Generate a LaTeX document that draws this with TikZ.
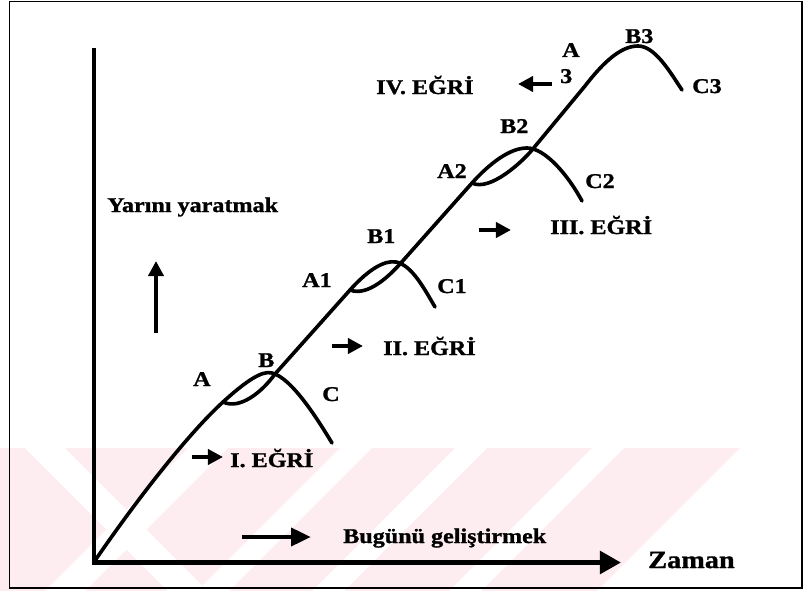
\documentclass[tikz,border=0pt]{standalone}
\usepackage{fontspec}
\setmainfont{Liberation Serif}[FakeStretch=1.15,BoldFeatures={FakeBold=1.2}]
\usetikzlibrary{arrows.meta}
\definecolor{wmpink}{RGB}{253,237,240}

\begin{document}
\begin{tikzpicture}[x=0.03cm,y=-0.03cm,
  lbl/.style={font=\bfseries\fontsize{17.9}{20}\selectfont,inner sep=0pt,anchor=base west},
  curve/.style={line width=3.1pt,line cap=round,line join=round},
  arr/.style={line width=4pt,-{Triangle[length=13pt,width=13pt]}},
  axis/.style={line width=4.2pt,-{Triangle[length=18pt,width=19pt]}}]
\useasboundingbox (0,0) rectangle (804,591);
% watermark band
\begin{scope}
\clip (0,448) -- (740,448) -- (597,591) -- (0,591) -- cycle;
\fill[wmpink] (0,448) rectangle (804,591);
\fill[white] (25,448) -- (65,448) -- (208,591) -- (168,591) -- cycle;
\fill[white] (188,448) -- (228,448) -- (85,591) -- (45,591) -- cycle;
\foreach \s in {340,455,592}
  \fill[white] (\s,448) -- (\s+32,448) -- (\s+32-143,591) -- (\s-143,591) -- cycle;
\end{scope}
\draw[line width=1.7pt] (9.5,1.5) rectangle (802,588);

% axes
\coordinate (ytop) at (94,48);
\coordinate (xend) at (621,562.5);
\draw[axis] (ytop) |- (xend);
\node[lbl,font=\bfseries\fontsize{21}{24}\selectfont] (zaman) at (648,568) {Zaman};

% curves
\draw[curve] (94,562) .. controls (140,495) and (190,432) .. (223,402)
  .. controls (245,382) and (262,370) .. (272,373)
  .. controls (292,378) and (318,420) .. (332,443);
\draw[curve] (223,402) .. controls (240,410) and (262,392) .. (275,374) -- (350,290)
  .. controls (368,270) and (384,260) .. (396,262)
  .. controls (412,265) and (425,290) .. (435,307);
\draw[curve] (350,290) .. controls (368,297) and (390,275) .. (400,264) -- (472,183)
  .. controls (490,163) and (510,148) .. (527,148)
  .. controls (545,148) and (568,175) .. (582,201);
\draw[curve] (472,183) .. controls (490,192) and (523,161) .. (532,150) -- (585,86)
  .. controls (605,60) and (622,46) .. (638,46)
  .. controls (655,46) and (670,72) .. (682,90);

% point labels
\node[lbl] (a0) at (193,386) {A};
\node[lbl] (b0) at (258,367) {B};
\node[lbl] (c0) at (322,401) {C};
\node[lbl] (a1) at (302,287) {A1};
\node[lbl] (b1) at (367,243) {B1};
\node[lbl] (c1) at (437,293) {C1};
\node[lbl] (a2) at (437,178) {A2};
\node[lbl] (b2) at (500,133) {B2};
\node[lbl] (c2) at (585,188) {C2};
\node[lbl] (a3) at (562,57) {A};
\node[lbl] (n3) at (560,83) {3};
\node[lbl] (b3) at (625,43) {B3};
\node[lbl] (c3) at (692,93) {C3};

% curve names and arrows
\node[lbl] (e1) at (230,467) {I. EĞRİ};
\node[lbl] (e2) at (383,355) {II. EĞRİ};
\node[lbl] (e3) at (550,234) {III. EĞRİ};
\node[lbl] (e4) at (376,94) {IV. EĞRİ};
\coordinate (p1) at (192,457); \coordinate (q1) at (223,457);
\coordinate (p2) at (332,346); \coordinate (q2) at (363,346);
\coordinate (p3) at (479,230); \coordinate (q3) at (511,230);
\coordinate (p4) at (552,84);  \coordinate (q4) at (518,84);
\draw[arr] (p1) -- (q1);
\draw[arr] (p2) -- (q2);
\draw[arr] (p3) -- (q3);
\draw[arr] (p4) -- (q4);

\node[lbl] (yarin) at (107,212) {Yarını yaratmak};
\coordinate (u1) at (156,333); \coordinate (u2) at (156,261);
\draw[arr,line width=3.5pt] (u1) -- (u2);
\node[lbl] (bugun) at (343,543) {Bugünü geliştirmek};
\coordinate (g1) at (242,537); \coordinate (g2) at (311,537);
\draw[arr,-{Triangle[length=17pt,width=15pt]}] (g1) -- (g2);
\end{tikzpicture}
\end{document}
